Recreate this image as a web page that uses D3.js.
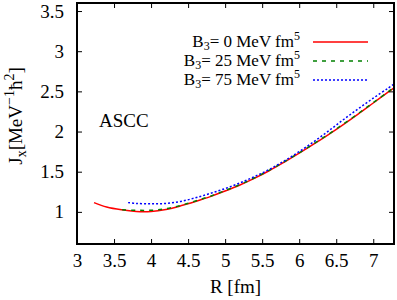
<!DOCTYPE html>
<html lang="en">
<head>
    <meta charset="UTF-8">
    <title>Jx vs R (ASCC)</title>
    <script src="https://d3js.org/d3.v7.min.js"></script>
    <style>
        body { margin: 0; background: #fff; }
        svg text { font-family: "Liberation Serif", "Times New Roman", Times, Tinos, "Noto Serif", "DejaVu Serif", FreeSerif, serif; fill: #000; }
    </style>
</head>
<body>
    <script>
        const width = 397, height = 300;
        const margin = {left: 77, right: 3, top: 3, bottom: 56};
        const serif = "'Liberation Serif', 'Times New Roman', Times, Tinos, 'Noto Serif', 'DejaVu Serif', serif";

        // data: R [fm] and Jx [MeV^-1 hbar^2]
        const xTicks = [3, 3.5, 4, 4.5, 5, 5.5, 6, 6.5, 7];
        const yTicks = [1, 1.5, 2, 2.5, 3, 3.5];

        const rB0  = [3.23, 3.4, 3.6, 3.8, 4.0, 4.2, 4.4, 4.6, 4.8, 5.0, 5.2, 5.4, 5.6, 5.8, 6.0, 6.2, 6.4, 6.6, 6.8, 7.0, 7.2, 7.28];
        const jB0  = [1.115, 1.06, 1.025, 1.005, 1.005, 1.03, 1.075, 1.13, 1.19, 1.26, 1.335, 1.42, 1.515, 1.62, 1.73, 1.845, 1.965, 2.09, 2.22, 2.355, 2.49, 2.545];
        const rB25 = [3.61, 3.8, 4.0, 4.2, 4.4, 4.6, 4.8, 5.0, 5.2, 5.4, 5.6, 5.8, 6.0, 6.2, 6.4, 6.6, 6.8, 7.0, 7.2, 7.28];
        const jB25 = [1.025, 1.02, 1.02, 1.04, 1.08, 1.135, 1.195, 1.265, 1.34, 1.425, 1.52, 1.625, 1.735, 1.85, 1.97, 2.095, 2.225, 2.36, 2.495, 2.55];
        const rB75 = [3.69, 3.8, 4.0, 4.2, 4.4, 4.6, 4.8, 5.0, 5.2, 5.4, 5.6, 5.8, 6.0, 6.2, 6.4, 6.6, 6.8, 7.0, 7.2, 7.28];
        const jB75 = [1.115, 1.105, 1.10, 1.105, 1.13, 1.175, 1.23, 1.29, 1.36, 1.44, 1.53, 1.635, 1.75, 1.875, 2.01, 2.15, 2.285, 2.415, 2.54, 2.59];

        const series = [
            {b3: "0",  r: rB0,  j: jB0,  color: "#ff0000", dash: null},
            {b3: "25", r: rB25, j: jB25, color: "#008000", dash: "4,5"},
            {b3: "75", r: rB75, j: jB75, color: "#0000ff", dash: "2,2"}
        ];

        const svg = d3.select("body").append("svg")
            .attr("width", width)
            .attr("height", height)
            .attr("font-family", serif);

        const x = d3.scaleLinear().domain([3, 7.28]).range([margin.left, width - margin.right]);
        const y = d3.scaleLinear().domain([0.6, 3.6]).range([height - margin.bottom, margin.top]);

        svg.append("defs").append("clipPath").attr("id", "plot")
            .append("rect")
            .attr("x", x.range()[0]).attr("y", y.range()[1])
            .attr("width", x.range()[1] - x.range()[0])
            .attr("height", y.range()[0] - y.range()[1]);

        const line = d3.line()
            .x(d => x(d[0]))
            .y(d => y(d[1]))
            .curve(d3.curveCatmullRom.alpha(0.5));

        const curves = svg.append("g").attr("clip-path", "url(#plot)");
        series.forEach(s => {
            curves.append("path")
                .datum(s.r.map((v, i) => [v, s.j[i]]))
                .attr("fill", "none")
                .attr("stroke", s.color)
                .attr("stroke-width", 1.5)
                .attr("stroke-dasharray", s.dash)
                .attr("d", line);
        });

        // axes: ticks inward on all sides
        const tickLen = 5;
        const axBottom = svg.append("g").attr("transform", `translate(0,${y.range()[0]})`)
            .call(d3.axisBottom(x).tickValues(xTicks).tickSizeInner(-tickLen).tickSizeOuter(0).tickPadding(10).tickFormat(d3.format("")));
        const axTop = svg.append("g").attr("transform", `translate(0,${y.range()[1]})`)
            .call(d3.axisTop(x).tickValues(xTicks).tickSizeInner(-tickLen).tickSizeOuter(0).tickFormat(""));
        const axLeft = svg.append("g").attr("transform", `translate(${x.range()[0]},0)`)
            .call(d3.axisLeft(y).tickValues(yTicks).tickSizeInner(-tickLen).tickSizeOuter(0).tickPadding(13).tickFormat(d3.format("")));
        const axRight = svg.append("g").attr("transform", `translate(${x.range()[1]},0)`)
            .call(d3.axisRight(y).tickValues(yTicks).tickSizeInner(-tickLen).tickSizeOuter(0).tickFormat(""));

        [axBottom, axTop, axLeft, axRight].forEach(g => {
            g.attr("font-family", serif);
            g.select(".domain").remove();
            g.selectAll(".tick line").attr("stroke", "#000").attr("stroke-width", 1);
            g.selectAll(".tick text").attr("font-size", 19).attr("fill", "#000");
        });

        // frame
        svg.append("rect")
            .attr("x", x.range()[0]).attr("y", y.range()[1])
            .attr("width", x.range()[1] - x.range()[0])
            .attr("height", y.range()[0] - y.range()[1])
            .attr("fill", "none")
            .attr("stroke", "#000")
            .attr("stroke-width", 2);

        // axis labels
        svg.append("text")
            .attr("x", (x.range()[0] + x.range()[1]) / 2)
            .attr("y", 293)
            .attr("text-anchor", "middle")
            .attr("font-size", 19)
            .text("R [fm]");

        const yl = svg.append("text")
            .attr("transform", "translate(22,116) rotate(-90)")
            .attr("text-anchor", "middle")
            .attr("font-size", 19);
        yl.append("tspan").text("J");
        yl.append("tspan").attr("font-size", 14).attr("dy", 4).text("x");
        yl.append("tspan").attr("dy", -4).text("[MeV");
        yl.append("tspan").attr("font-size", 14).attr("dy", -8).text("\u22121");
        yl.append("tspan").attr("dy", 8).text("\u0127");
        yl.append("tspan").attr("font-size", 14).attr("dy", -8).text("2");
        yl.append("tspan").attr("dy", 8).text("]");

        svg.append("text")
            .attr("x", 99)
            .attr("y", 127)
            .attr("font-size", 19)
            .text("ASCC");

        // legend
        const legend = svg.append("g");
        series.forEach((s, i) => {
            const ly = 42 + i * 19;
            const t = legend.append("text")
                .attr("x", 300)
                .attr("y", ly + 5)
                .attr("text-anchor", "end")
                .attr("font-size", 17);
            t.append("tspan").text("B");
            t.append("tspan").attr("font-size", 12).attr("dy", 3).text("3");
            t.append("tspan").attr("dy", -3).text(`= ${s.b3} MeV fm`);
            t.append("tspan").attr("font-size", 12).attr("dy", -7).text("5");
            legend.append("line")
                .attr("x1", 313).attr("x2", 368)
                .attr("y1", ly).attr("y2", ly)
                .attr("stroke", s.color)
                .attr("stroke-width", 1.5)
                .attr("stroke-dasharray", s.dash);
        });
    </script>
</body>
</html>
